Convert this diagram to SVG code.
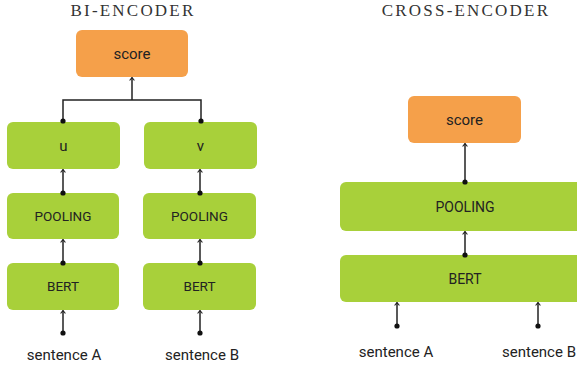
<svg xmlns="http://www.w3.org/2000/svg" width="577" height="371" viewBox="0 0 577 371">
<defs>
<marker id="ah" viewBox="0 0 10 10" refX="9" refY="5" markerWidth="6" markerHeight="6" orient="auto" markerUnits="userSpaceOnUse">
<path d="M4,1 L9,5 L4,9" fill="none" stroke="#222" stroke-width="1.8"/>
</marker>
<style>
.title{font-family:"Liberation Serif",serif;font-size:17px;letter-spacing:2.2px;fill:#333;text-anchor:middle}
.g{fill:#A8D03A}
.o{fill:#F5A04A}
.lbl{font-family:Roboto,"Liberation Sans",sans-serif;fill:#222;text-anchor:middle;dominant-baseline:central}
.s15{font-size:15px}
.s13{font-size:13.5px}
.s14{font-size:14px}
.txt{font-family:Roboto,"Liberation Sans",sans-serif;font-size:15px;fill:#222;text-anchor:middle}
.c{fill:none;stroke:#222;stroke-width:1.5}
.dot{fill:#111}
</style>
</defs>
<rect width="577" height="371" fill="#fff"/>
<text class="title" x="133" y="16">BI-ENCODER</text>
<text class="title" x="466" y="16">CROSS-ENCODER</text>

<g id="bi-score"><rect class="o" x="76" y="30" width="112" height="47" rx="6"/><text class="lbl s15" x="132" y="53.5">score</text></g>
<g id="bi-u"><rect class="g" x="7" y="122" width="113" height="47" rx="6"/><text class="lbl s15" x="63.5" y="145.5">u</text></g>
<g id="bi-v"><rect class="g" x="144" y="122" width="113" height="47" rx="6"/><text class="lbl s15" x="200.5" y="145.5">v</text></g>
<g id="bi-pool-a"><rect class="g" x="7" y="193" width="112" height="46" rx="6"/><text class="lbl s13" x="63" y="215.5">POOLING</text></g>
<g id="bi-pool-b"><rect class="g" x="143" y="193" width="113" height="46" rx="6"/><text class="lbl s13" x="199.5" y="215.5">POOLING</text></g>
<g id="bi-bert-a"><rect class="g" x="7" y="263" width="112" height="47" rx="6"/><text class="lbl s13" x="63" y="285.5">BERT</text></g>
<g id="bi-bert-b"><rect class="g" x="143" y="263" width="113" height="47" rx="6"/><text class="lbl s13" x="199.5" y="285.5">BERT</text></g>
<g id="bi-sa"><text class="txt" x="64" y="360">sentence A</text></g>
<g id="bi-sb"><text class="txt" x="202" y="360">sentence B</text></g>

<g id="cr-score"><rect class="o" x="408" y="96" width="113" height="47" rx="6"/><text class="lbl s15" x="464.5" y="119.5">score</text></g>
<g id="cr-pool"><rect class="g" x="340" y="182" width="250" height="49" rx="6"/><text class="lbl s14" x="465" y="206.5">POOLING</text></g>
<g id="cr-bert"><rect class="g" x="340" y="255" width="250" height="47" rx="6"/><text class="lbl s14" x="465" y="278.5">BERT</text></g>
<g id="cr-sa"><text class="txt" x="396" y="357">sentence A</text></g>
<g id="cr-sb"><text class="txt" x="539" y="357">sentence B</text></g>

<g id="connectors">
<path class="c" d="M63,121 V100 H201 V121"/>
<path class="c" d="M132,100 V77.5" marker-end="url(#ah)"/>
<circle class="dot" cx="63" cy="121" r="2.6"/>
<circle class="dot" cx="201" cy="121" r="2.6"/>

<path class="c" d="M63,193 V169.5" marker-end="url(#ah)"/><circle class="dot" cx="63" cy="193" r="2.6"/>
<path class="c" d="M200,193 V169.5" marker-end="url(#ah)"/><circle class="dot" cx="200" cy="193" r="2.6"/>
<path class="c" d="M63,263 V239.5" marker-end="url(#ah)"/><circle class="dot" cx="63" cy="263" r="2.6"/>
<path class="c" d="M200,263 V239.5" marker-end="url(#ah)"/><circle class="dot" cx="200" cy="263" r="2.6"/>
<path class="c" d="M63,333 V310.5" marker-end="url(#ah)"/><circle class="dot" cx="63" cy="333" r="2.6"/>
<path class="c" d="M200,333 V310.5" marker-end="url(#ah)"/><circle class="dot" cx="200" cy="333" r="2.6"/>

<path class="c" d="M465,182 V143.5" marker-end="url(#ah)"/><circle class="dot" cx="465" cy="182" r="2.6"/>
<path class="c" d="M465,255 V231.5" marker-end="url(#ah)"/><circle class="dot" cx="465" cy="255" r="2.6"/>
<path class="c" d="M397,326 V302.5" marker-end="url(#ah)"/><circle class="dot" cx="397" cy="326" r="2.6"/>
<path class="c" d="M538,326 V302.5" marker-end="url(#ah)"/><circle class="dot" cx="538" cy="326" r="2.6"/>
</g>
</svg>
